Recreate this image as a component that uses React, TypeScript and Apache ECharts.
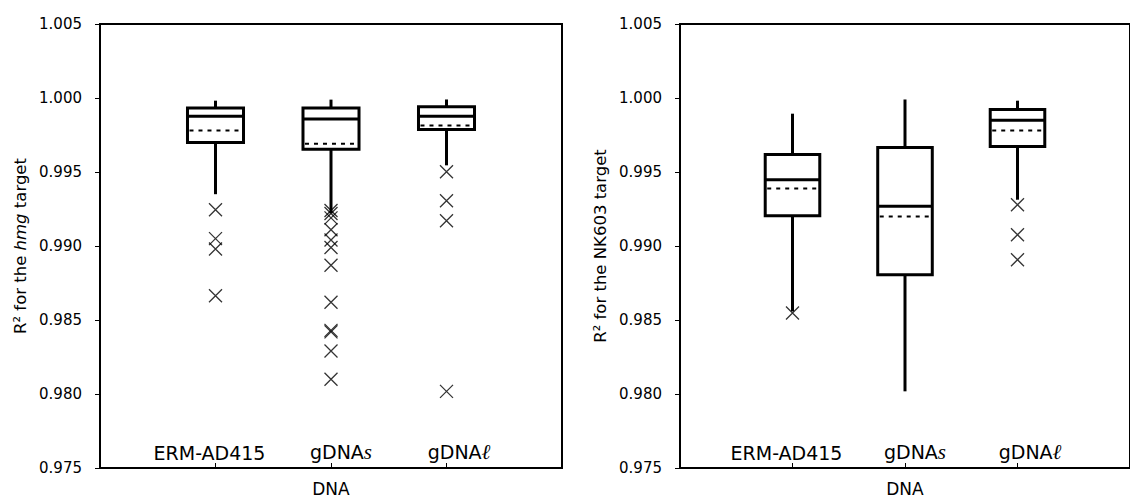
import React, { useEffect, useRef } from "react";
import * as echarts from "echarts";

// Categories (x positions 1, 2, 3 on a 0..4 axis)
const categories = ["ERM-AD415", "gDNAs", "gDNAℓ"];
const yTicks = { min: 0.975, max: 1.005, interval: 0.005 };

// Left panel: R² for the hmg target
const hmgWhiskerLow = [0.9935, 0.9922, 0.99545];
const hmgQ1 = [0.997, 0.99653, 0.99788];
const hmgMedian = [0.99876, 0.99858, 0.99876];
const hmgMean = [0.99781, 0.99691, 0.99815];
const hmgQ3 = [0.99932, 0.99932, 0.99941];
const hmgWhiskerHigh = [0.99982, 0.99989, 0.9999];
const hmgOutliers = [
  [0.99245, 0.9905, 0.9898, 0.98664],
  [0.9924, 0.9922, 0.9919, 0.9911, 0.9904, 0.9899, 0.9887, 0.9862, 0.9843, 0.9842, 0.9829, 0.981],
  [0.99502, 0.99306, 0.99171, 0.98018],
];

// Right panel: R² for the NK603 target
const nkWhiskerLow = [0.98558, 0.98018, 0.99313];
const nkQ1 = [0.99205, 0.98806, 0.99673];
const nkMedian = [0.99448, 0.99268, 0.99849];
const nkMean = [0.99389, 0.992, 0.99781];
const nkQ3 = [0.99619, 0.99666, 0.99923];
const nkWhiskerHigh = [0.99894, 0.9999, 0.99982];
const nkOutliers = [[0.98547], [], [0.99279, 0.99076, 0.98907]];

const FONT = "DejaVu Sans";

function boxData(lo: number[], q1: number[], med: number[], mean: number[], q3: number[], hi: number[]) {
  return categories.map((_, i) => [i + 1, lo[i], q1[i], med[i], mean[i], q3[i], hi[i]]);
}
function outlierData(out: number[][]) {
  const res: number[][] = [];
  out.forEach((arr, i) => arr.forEach((v) => res.push([i + 1, v])));
  return res;
}

const renderBox = (params: any, api: any) => {
  const x = api.value(0);
  const pLo = api.coord([x, api.value(1)]);
  const pQ1 = api.coord([x, api.value(2)]);
  const pMed = api.coord([x, api.value(3)]);
  const pMean = api.coord([x, api.value(4)]);
  const pQ3 = api.coord([x, api.value(5)]);
  const pHi = api.coord([x, api.value(6)]);
  const half = api.size([0.485, 0])[0] / 2;
  const cx = pMed[0];
  const line = (x1: number, y1: number, x2: number, y2: number, extra: any = {}) => ({
    type: "line",
    shape: { x1, y1, x2, y2 },
    style: { stroke: "#000", lineWidth: 3, ...extra },
  });
  return {
    type: "group",
    children: [
      line(cx, pQ3[1], cx, pHi[1]),
      line(cx, pQ1[1], cx, pLo[1]),
      {
        type: "rect",
        shape: { x: cx - half, y: pQ3[1], width: half * 2, height: pQ1[1] - pQ3[1] },
        style: { fill: "#fff", stroke: "#000", lineWidth: 3 },
      },
      line(cx - half, pMed[1], cx + half, pMed[1]),
      line(cx - half + 2, pMean[1], cx + half - 2, pMean[1], { lineWidth: 2, lineDash: [4, 5] }),
    ],
  };
};

const labelRich = {
  a0: { fontFamily: FONT, fontSize: 19, color: "#000", padding: [0, 12, 0, 0] },
  a1: { fontFamily: FONT, fontSize: 19, color: "#000", padding: [0, 0, 0, 20] },
  a2: { fontFamily: FONT, fontSize: 19, color: "#000", padding: [0, 0, 0, 25] },
  s: { fontFamily: "Liberation Serif", fontStyle: "italic", fontSize: 21, color: "#000" },
};

function catLabel(v: number) {
  if (v === 1) return "{a0|" + categories[0] + "}";
  if (v === 2) return "{a1|gDNA}{s|s}";
  if (v === 3) return "{a2|gDNA}{s|ℓ}";
  return "";
}

function makeXAxis(gridIndex: number) {
  return {
    type: "value",
    gridIndex,
    min: 0,
    max: 4,
    interval: 1,
    name: "DNA",
    nameLocation: "middle",
    nameGap: 12,
    nameTextStyle: { fontFamily: FONT, fontSize: 17, color: "#000" },
    axisLine: { show: true, lineStyle: { color: "#000", width: 2 } },
    axisTick: { show: true, inside: true, length: 5, customValues: [1, 2, 3], lineStyle: { color: "#000", width: 1 } },
    axisLabel: {
      show: true,
      inside: true,
      margin: 6,
      customValues: [1, 2, 3],
      formatter: (v: number) => catLabel(v),
      rich: labelRich,
    },
    splitLine: { show: false },
  };
}

function makeYAxis(gridIndex: number, name: string, rich: any) {
  return {
    type: "value",
    gridIndex,
    min: yTicks.min,
    max: yTicks.max,
    interval: yTicks.interval,
    name,
    nameLocation: "middle",
    nameGap: 71,
    nameTextStyle: { fontFamily: FONT, fontSize: 16.5, color: "#000", rich },
    axisLine: { show: true, lineStyle: { color: "#000", width: 2 } },
    axisTick: { show: true, inside: false, length: 5, lineStyle: { color: "#000", width: 1 } },
    axisLabel: {
      margin: 18,
      fontFamily: FONT,
      fontSize: 15,
      color: "#000",
      formatter: (v: number) => v.toFixed(3),
    },
    splitLine: { show: false },
  };
}

const crossSymbol = "path://M0,0L10,10M10,0L0,10";

export default function App() {
  const ref = useRef<HTMLDivElement>(null);
  useEffect(() => {
    if (!ref.current) return;
    const chart = echarts.init(ref.current, undefined, { renderer: "svg" });
    const italicRich = {
      i: { fontFamily: FONT, fontSize: 16.5, fontStyle: "italic", color: "#000" },
    };
    const scatterStyle = {
      symbol: crossSymbol,
      symbolSize: 13,
      itemStyle: { color: "rgba(0,0,0,0)", borderColor: "#000", borderWidth: 1.3 },
      z: 5,
    };
    chart.setOption({
      animation: false,
      backgroundColor: "#fff",
      grid: [
        { left: 100, top: 24, width: 462, height: 444, show: true, borderColor: "#000", borderWidth: 2, backgroundColor: "transparent" },
        { left: 680, top: 24, width: 462, height: 444, show: true, borderColor: "#000", borderWidth: 2, backgroundColor: "transparent" },
      ],
      xAxis: [makeXAxis(0), makeXAxis(1)],
      yAxis: [
        makeYAxis(0, "R² for the {i|hmg} target", italicRich),
        makeYAxis(1, "R² for the NK603 target", italicRich),
      ],
      series: [
        {
          type: "custom",
          xAxisIndex: 0,
          yAxisIndex: 0,
          renderItem: renderBox,
          encode: { x: 0, y: [1, 2, 3, 4, 5, 6] },
          data: boxData(hmgWhiskerLow, hmgQ1, hmgMedian, hmgMean, hmgQ3, hmgWhiskerHigh),
          z: 3,
        },
        {
          type: "custom",
          xAxisIndex: 1,
          yAxisIndex: 1,
          renderItem: renderBox,
          encode: { x: 0, y: [1, 2, 3, 4, 5, 6] },
          data: boxData(nkWhiskerLow, nkQ1, nkMedian, nkMean, nkQ3, nkWhiskerHigh),
          z: 3,
        },
        { type: "scatter", xAxisIndex: 0, yAxisIndex: 0, data: outlierData(hmgOutliers), ...scatterStyle },
        { type: "scatter", xAxisIndex: 1, yAxisIndex: 1, data: outlierData(nkOutliers), ...scatterStyle },
      ],
    });
    return () => chart.dispose();
  }, []);
  return (
    <div
      ref={ref}
      style={{ position: "absolute", left: 0, top: 0, width: 1130, height: 503, background: "#fff" }}
    />
  );
}
